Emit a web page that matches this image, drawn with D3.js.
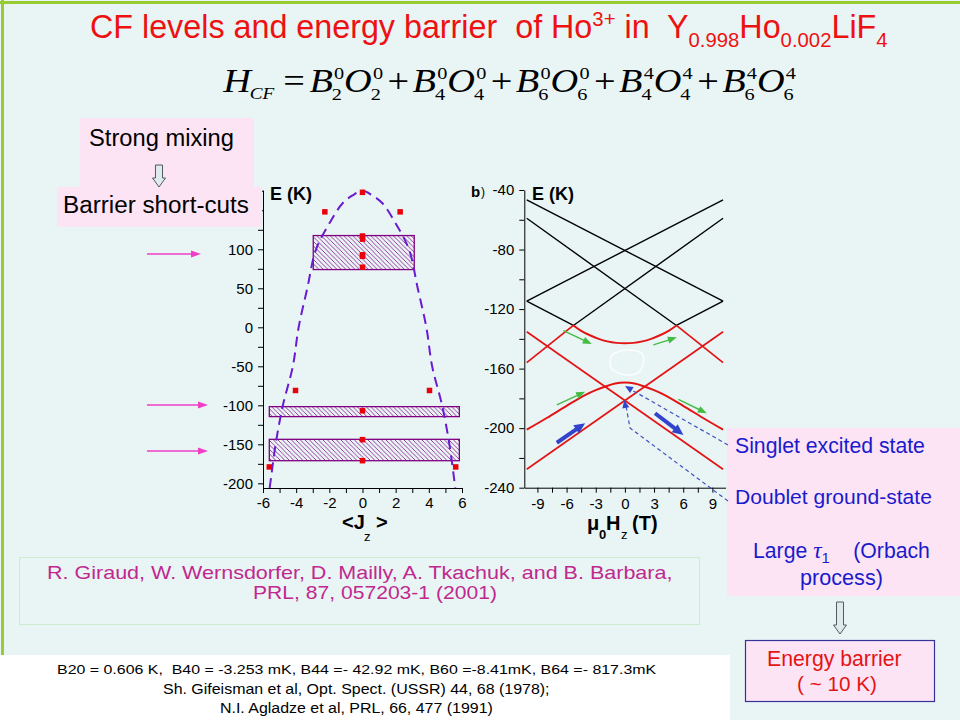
<!DOCTYPE html>
<html><head><meta charset="utf-8">
<script src="https://cdn.jsdelivr.net/npm/d3@7/dist/d3.min.js"></script>
<style>html,body{margin:0;padding:0;background:#fff}svg{display:block}</style>
</head><body>
<svg id="c" width="960" height="720" xmlns="http://www.w3.org/2000/svg"></svg>
<script>
// ---------------- data ----------------
// panel a: CF levels vs <Jz>
const jzTickValues = [-6,-5,-4,-3,-2,-1,0,1,2,3,4,5,6];
const eLeftTickValues = [-200,-175,-150,-125,-100,-75,-50,-25,0,25,50,75,100,125,150,175];
const eLeftLabels = [-200,-150,-100,-50,0,50,100];
const levelJz = [0,-2.27,2.27,0,0,0,0,0,-4.04,4.04,0,0,0,-5.62,5.62];
const levelE  = [173,148,148,117,113,93,91,77,-81,-81,-107,-144,-171,-179,-179];
const bandJzMin = [-2.97,-5.62,-5.62];
const bandJzMax = [3.12,5.84,5.84];
const bandEMin  = [74,-114.5,-171];
const bandEMax  = [117.6,-101.7,-143.6];
const barrierJz = [-5.6,-5.56,-5.24,-4.8,-4.2,-3.85,-3.33,-2.8,-1.95,-1.2,-0.6,0,0.6,1.2,1.95,2.8,3.33,3.85,4.2,4.8,5.24,5.56,5.6];
const barrierE  = [-206,-200,-150,-100,-50,0,50,100,135,159,169,175,169,159,135,100,50,0,-50,-100,-150,-200,-206];

// panel b: Zeeman diagram E vs mu0Hz
const hTickValues = [-9,-7.5,-6,-4.5,-3,-1.5,0,1.5,3,4.5,6,7.5,9];
const eRightTickValues = [-240,-220,-200,-180,-160,-140,-120,-100,-80,-60,-40];
const blackLineT = [[-10.1,10.1],[-10.1,10.1],[-10.1,5.3],[-5.3,10.1],[-10.1,-5.3],[5.3,10.1]];
const blackLineE = [[-46.7,-114.6],[-114.6,-46.7],[-59,-131],[-131,-59],[-114.6,-131],[-131,-114.6]];
const redLineT = [[-10.1,10.1],[-10.1,10.1],[5.3,10.1],[-10.1,-5.3]];
const redLineE = [[-135.2,-227.6],[-227.6,-135.2],[-131,-156],[-156,-131]];
const upperBranchT = [-5.3,-4.5,-3.6,-2.7,-1.8,-0.9,0,0.9,1.8,2.7,3.6,4.5,5.3];
const upperBranchE = [-131,-134.6,-137.6,-140,-141.7,-142.7,-143,-142.7,-141.7,-140,-137.6,-134.6,-131];
const lowerBranchT = [-10.1,-8,-6,-4,-3,-2,-1,0,1,2,3,4,6,8,10.1];
const lowerBranchE = [-201,-193,-185,-177.5,-174.5,-172,-170,-169.4,-170,-172,-174.5,-177.5,-185,-193,-201];

// ---------------- drawing ----------------
const svg = d3.select('#c');
const SANS = 'Liberation Sans, Arial, sans-serif';
const SERIF = 'Liberation Serif, Times New Roman, serif';

svg.append('rect').attr('width',960).attr('height',720).attr('fill','#e9f5f5');
svg.append('rect').attr('x',0).attr('y',655).attr('width',730).attr('height',65).attr('fill','#ffffff');
svg.append('line').attr('x1',0).attr('x2',960).attr('y1',2.5).attr('y2',2.5).attr('stroke','#99cc33').attr('stroke-width',3);
svg.append('line').attr('x1',2.5).attr('x2',2.5).attr('y1',0).attr('y2',655).attr('stroke','#99cc33').attr('stroke-width',3);

const defs = svg.append('defs');
const pat = defs.append('pattern').attr('id','hatch').attr('patternUnits','userSpaceOnUse').attr('width',4.5).attr('height',4.5);
pat.append('path').attr('d','M-1,-1L5.5,5.5M-1,3.5L1,5.5M3.5,-1L5.5,1').attr('stroke','#8a1a8a').attr('stroke-width',0.85);

// scale a text group so that it starts at x0 and spans targetW, keeping baseline yb
function fit(g, x0, yb, targetW, yRel){
  const bb = g.node().getBBox();
  const s = targetW / bb.width;
  const sy = s * (yRel===undefined ? 1 : yRel);
  g.attr('transform', `translate(${x0},${yb}) scale(${s},${sy}) translate(${-bb.x},${-yb})`);
}
function fitText(x0, yb, targetW, txt, attrs, yRel){
  const g = svg.append('g');
  const t = g.append('text').attr('x',0).attr('y',yb).style('white-space','pre').text(txt);
  Object.entries(attrs).forEach(([k,v])=>t.attr(k,v));
  fit(g, x0, yb, targetW, yRel);
  return g;
}
function arrow(g,x1,y1,x2,y2,color,w,hl,hw){
  const dx=x2-x1, dy=y2-y1, L=Math.hypot(dx,dy), ux=dx/L, uy=dy/L;
  const bx=x2-ux*hl, by=y2-uy*hl;
  if(w>0.2) g.append('line').attr('x1',x1).attr('y1',y1).attr('x2',bx+ux).attr('y2',by+uy)
    .attr('stroke',color).attr('stroke-width',w);
  g.append('path').attr('d',`M${x2},${y2}L${bx-uy*hw/2},${by+ux*hw/2}L${bx+uy*hw/2},${by-ux*hw/2}Z`).attr('fill',color);
}
function hollowDown(cx,y1,y2){
  const sw=3.5, hw=6.5, hl=9, yb=y2-hl;
  svg.append('path').attr('d',`M${cx-sw},${y1}L${cx+sw},${y1}L${cx+sw},${yb}L${cx+hw},${yb}L${cx},${y2}L${cx-hw},${yb}L${cx-sw},${yb}Z`)
    .attr('fill','#dfeaec').attr('stroke','#4d5d60').attr('stroke-width',1);
}

// ---- title ----
const tg = svg.append('g');
const title = tg.append('text').attr('x',0).attr('y',38).attr('font-family',SANS).attr('font-size',27)
  .attr('fill','#ee1111').style('white-space','pre');
title.append('tspan').text('CF levels and energy barrier  of Ho');
title.append('tspan').attr('dy',-10).attr('font-size',17).text('3+');
title.append('tspan').attr('dy',10).text(' in  Y');
title.append('tspan').attr('dy',7).attr('font-size',17).text('0.998');
title.append('tspan').attr('dy',-7).text('Ho');
title.append('tspan').attr('dy',7).attr('font-size',17).text('0.002');
title.append('tspan').attr('dy',-7).text('LiF');
title.append('tspan').attr('dy',7).attr('font-size',17).text('4');
fit(tg, 90, 38, 798, 1.03);

// ---- formula ----
const fg = svg.append('g');
const FB = 92, FS = 34, FSS = 18;
let cx = 0;
function piece(txt, opts){
  const t = fg.append('text').attr('x',cx+(opts.dx||0)).attr('y',FB+(opts.dy||0)).attr('font-family',SERIF)
    .attr('font-size',opts.size||FS).attr('font-style',opts.italic?'italic':'normal').attr('fill','#000').text(txt);
  return t.node().getComputedTextLength();
}
cx += piece('H',{italic:true}) ;
cx += piece('CF',{italic:true,size:17,dy:7,dx:-1}) + 7;
cx += piece('=',{}) + 4;
const termIdx = [[2,0],[4,0],[6,0],[4,4],[6,4]];
termIdx.forEach((ti,i)=>{
  if(i>0){ cx += 4; cx += piece('+',{}) + 3; }
  cx += piece('B',{italic:true});
  const w1 = piece(String(ti[1]),{size:FSS,dy:-13,dx:1});
  piece(String(ti[0]),{size:FSS,dy:8,dx:-1});
  cx += w1 + 1;
  cx += piece('O',{italic:true});
  const w2 = piece(String(ti[1]),{size:FSS,dy:-13,dx:1});
  piece(String(ti[0]),{size:FSS,dy:8,dx:-1});
  cx += w2 + 1;
});
fit(fg, 222, FB, 574, 0.86);

// magenta arrows
const ag = svg.append('g');
arrow(ag,147,254,201,254,'#ee3fc6',1.5,10,7);
arrow(ag,147,405,208,405,'#ee3fc6',1.5,10,7);
arrow(ag,147,451,208,451,'#ee3fc6',1.5,10,7);

// ---- panel a ----
const xL = d3.scaleLinear().domain([-6,6]).range([263,462]);
const yL = d3.scaleLinear().domain([-206,176]).range([488,190]);
const pa = svg.append('g');

pa.selectAll('rect.band').data(bandEMin).enter().append('rect').attr('class','band')
  .attr('x',(d,i)=>xL(bandJzMin[i])).attr('width',(d,i)=>xL(bandJzMax[i])-xL(bandJzMin[i]))
  .attr('y',(d,i)=>yL(bandEMax[i])).attr('height',(d,i)=>yL(bandEMin[i])-yL(bandEMax[i]))
  .attr('fill','url(#hatch)').attr('stroke','#800080').attr('stroke-width',1.3);

pa.append('path').datum(barrierJz.map((j,i)=>[j,barrierE[i]]))
  .attr('d',d3.line().x(d=>xL(d[0])).y(d=>yL(d[1])).curve(d3.curveCatmullRom))
  .attr('fill','none').attr('stroke','#6a1bd1').attr('stroke-width',2).attr('stroke-dasharray','10,6');

pa.selectAll('rect.lev').data(levelE).enter().append('rect').attr('class','lev')
  .attr('x',(d,i)=>xL(levelJz[i])-2.75).attr('y',d=>yL(d)-2.75).attr('width',5.5).attr('height',5.5).attr('fill','#e8000b');

const axLy = pa.append('g').attr('transform',`translate(${xL.range()[0]},0)`)
  .call(d3.axisLeft(yL).tickValues(eLeftTickValues).tickFormat(d=>eLeftLabels.includes(d)?String(d):'').tickSize(5).tickSizeOuter(0).tickPadding(5));
const axLx = pa.append('g').attr('transform',`translate(0,${yL.range()[0]})`)
  .call(d3.axisBottom(xL).tickValues(jzTickValues).tickFormat(d=>d%2===0?String(d):'').tickSize(5).tickSizeOuter(0).tickPadding(4));
[axLy,axLx].forEach(a=>{a.attr('font-family',SANS).attr('font-size',15); a.selectAll('text').attr('fill','#000'); a.selectAll('line,path').attr('stroke','#000');});

pa.append('text').attr('x',270).attr('y',200).attr('font-family',SANS).attr('font-weight','bold').attr('font-size',18).text('E (K)');
pa.append('text').attr('x',342).attr('y',529).attr('font-family',SANS).attr('font-weight','bold').attr('font-size',20).text('<J');
pa.append('text').attr('x',376).attr('y',529).attr('font-family',SANS).attr('font-weight','bold').attr('font-size',20).text('>');
pa.append('text').attr('x',364).attr('y',541).attr('font-family',SANS).attr('font-size',13).text('z');

// ---- left pink boxes (drawn over the axis top) ----
svg.append('rect').attr('x',80).attr('y',118).attr('width',174).attr('height',70).attr('fill','#fce4f4');
svg.append('rect').attr('x',57).attr('y',187).attr('width',205).attr('height',40).attr('fill','#fce4f4');
fitText(89, 146, 145, 'Strong mixing', {'font-family':SANS,'font-size':20,'fill':'#000'});
fitText(63, 213, 186, 'Barrier short-cuts', {'font-family':SANS,'font-size':20,'fill':'#000'});
hollowDown(159,165,187);

// ---- panel b ----
const xR = d3.scaleLinear().domain([-10.35,10.35]).range([524.3,725.5]);
const yR = d3.scaleLinear().domain([-240,-40]).range([487.7,190]);
const pb = svg.append('g');
const lineR = d3.line().x(d=>xR(d[0])).y(d=>yR(d[1]));

pb.selectAll('path.blk').data(blackLineT).enter().append('path').attr('class','blk')
  .attr('d',(t,i)=>lineR(t.map((v,k)=>[v,blackLineE[i][k]]))).attr('fill','none').attr('stroke','#000').attr('stroke-width',1.4);
pb.selectAll('path.red').data(redLineT).enter().append('path').attr('class','red')
  .attr('d',(t,i)=>lineR(t.map((v,k)=>[v,redLineE[i][k]]))).attr('fill','none').attr('stroke','#e41414').attr('stroke-width',1.7);
const curveR = d3.line().x(d=>xR(d[0])).y(d=>yR(d[1])).curve(d3.curveCatmullRom);
pb.append('path').datum(upperBranchT.map((t,i)=>[t,upperBranchE[i]]))
  .attr('d',curveR).attr('fill','none').attr('stroke','#e41414').attr('stroke-width',2);
pb.append('path').datum(lowerBranchT.map((t,i)=>[t,lowerBranchE[i]]))
  .attr('d',curveR).attr('fill','none').attr('stroke','#e41414').attr('stroke-width',2);

const axRy = pb.append('g').attr('transform',`translate(${xR.range()[0]},0)`)
  .call(d3.axisLeft(yR).tickValues(eRightTickValues).tickFormat(d=>d%40===0?String(d):'').tickSize(5).tickSizeOuter(0).tickPadding(5));
const axRx = pb.append('g').attr('transform',`translate(0,${yR.range()[0]})`)
  .call(d3.axisBottom(xR).tickValues(hTickValues).tickFormat(d=>d%3===0?String(d):'').tickSize(5).tickSizeOuter(0).tickPadding(6));
[axRy,axRx].forEach(a=>{a.attr('font-family',SANS).attr('font-size',15); a.selectAll('text').attr('fill','#000'); a.selectAll('line,path').attr('stroke','#000');});

pb.append('text').attr('x',471).attr('y',197).attr('font-family',SANS).attr('font-weight','bold').attr('font-size',15).text('b');
pb.append('text').attr('x',481).attr('y',196).attr('font-family',SANS).attr('font-size',12).text(')');
pb.append('text').attr('x',532).attr('y',200).attr('font-family',SANS).attr('font-weight','bold').attr('font-size',18).text('E (K)');
pb.append('text').attr('x',587).attr('y',530).attr('font-family',SANS).attr('font-weight','bold').attr('font-size',20).text('μ');
pb.append('text').attr('x',599).attr('y',539).attr('font-family',SANS).attr('font-weight','bold').attr('font-size',13).text('0');
pb.append('text').attr('x',606).attr('y',530).attr('font-family',SANS).attr('font-weight','bold').attr('font-size',20).text('H');
pb.append('text').attr('x',621).attr('y',539).attr('font-family',SANS).attr('font-size',13).text('z');
pb.append('text').attr('x',632).attr('y',530).attr('font-family',SANS).attr('font-weight','bold').attr('font-size',20).text('(T)');

// faint white outline
pb.append('path').datum([[610,360],[615,353],[630,350],[643,355],[640,371],[627,375],[613,370]])
  .attr('d',d3.line().curve(d3.curveCardinalClosed)).attr('fill','none').attr('stroke','#ffffff').attr('stroke-width',1.4).attr('opacity',0.9);

// green and blue arrows (data coords)
const an = pb.append('g');
const greenA = [[-6.33,-134.5,-3.41,-143.5],[2.93,-144.1,5.34,-139.0],[-7.0,-184.4,-4.09,-175.5],[5.5,-180.6,8.43,-190.0]];
greenA.forEach(a=>arrow(an,xR(a[0]),yR(a[1]),xR(a[2]),yR(a[3]),'#44bb44',1.4,9,7));
const blueA = [[-7.0,-209.8,-4.09,-196.7],[3.1,-190,6.02,-204.6]];
blueA.forEach(a=>arrow(an,xR(a[0]),yR(a[1]),xR(a[2]),yR(a[3]),'#3344cc',4,11,10));

// ---- right pink box ----
svg.append('rect').attr('x',727).attr('y',428).attr('width',233).attr('height',168).attr('fill','#fce4f4');
const blueT = {'font-family':SANS,'font-size':20,'fill':'#1a1acd'};
fitText(735, 453, 190, 'Singlet excited state', blueT);
fitText(735, 504, 197, 'Doublet ground-state', blueT);
{
  const g = svg.append('g');
  const lt = g.append('text').attr('x',0).attr('y',558).attr('font-family',SANS).attr('font-size',20).attr('fill','#1a1acd').style('white-space','pre');
  lt.append('tspan').text('Large ');
  lt.append('tspan').attr('font-family',SERIF).attr('font-style','italic').attr('font-size',22).text('τ');
  lt.append('tspan').attr('font-size',14).attr('dy',5).text('1');
  lt.append('tspan').attr('dy',-5).text('    (Orbach');
  fit(g, 753, 558, 177);
}
fitText(800, 585, 83, 'process)', blueT);

// blue dashed pointers
const dg = svg.append('g');
dg.append('path').attr('d','M728,445L630,389').attr('fill','none').attr('stroke','#4050c0').attr('stroke-width',1.2).attr('stroke-dasharray','4,3');
dg.append('path').attr('d','M728,501L630,428L626,406').attr('fill','none').attr('stroke','#4050c0').attr('stroke-width',1.2).attr('stroke-dasharray','4,3');
arrow(dg,632,390.2,625,386,'#3344cc',0,8,7);
arrow(dg,625.8,408,624.3,400,'#3344cc',0,8,7);

hollowDown(840,602,634);
svg.append('rect').attr('x',745.5).attr('y',640.5).attr('width',189).attr('height',61).attr('fill','#fce4f4').attr('stroke','#33339a').attr('stroke-width',1.2);
const redT = {'font-family':SANS,'font-size':20,'fill':'#e41414'};
fitText(767, 666, 135, 'Energy barrier', redT);
fitText(797, 691, 80, '( ~ 10 K)', redT);

// ---- citation box ----
svg.append('rect').attr('x',19.5).attr('y',557.5).attr('width',680).attr('height',67).attr('fill','none').attr('stroke','#cdeccd').attr('stroke-width',1);
const magT = {'font-family':SANS,'font-size':20,'fill':'#c0288f'};
fitText(47, 579, 626, 'R. Giraud, W. Wernsdorfer, D. Mailly, A. Tkachuk, and B. Barbara,', magT, 0.85);
fitText(253, 599, 244, 'PRL, 87, 057203-1 (2001)', magT, 0.85);

// ---- bottom references ----
const refT = {'font-family':SANS,'font-size':14,'fill':'#000'};
fitText(57, 674, 600, 'B20 = 0.606 K,  B40 = -3.253 mK, B44 =- 42.92 mK, B60 =-8.41mK, B64 =- 817.3mK', refT, 0.86);
fitText(163, 694, 387, 'Sh. Gifeisman et al, Opt. Spect. (USSR) 44, 68 (1978);', refT, 0.86);
fitText(220, 713, 273, 'N.I. Agladze et al, PRL, 66, 477 (1991)', refT, 0.86);
</script>
</body></html>
